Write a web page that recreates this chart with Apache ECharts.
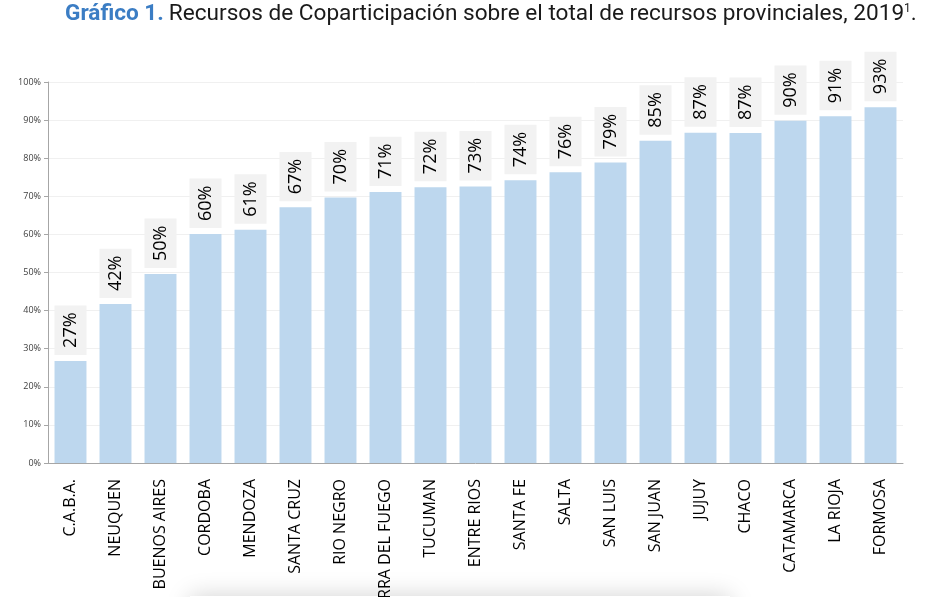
<!DOCTYPE html>
<html>
<head>
<meta charset="utf-8">
<script src="https://cdn.jsdelivr.net/npm/echarts@6/dist/echarts.min.js"></script>
<style>
  html, body { margin: 0; padding: 0; background: #fff; }
  #chart { width: 928px; height: 597px; }
</style>
</head>
<body>
<div id="chart"></div>
<script>
// Provincias, ordenadas de menor a mayor
const provincias = [
    'C.A.B.A.', 'NEUQUEN', 'BUENOS AIRES', 'CORDOBA', 'MENDOZA', 'SANTA CRUZ',
    'RIO NEGRO', 'TIERRA DEL FUEGO', 'TUCUMAN', 'ENTRE RIOS', 'SANTA FE', 'SALTA',
    'SAN LUIS', 'SAN JUAN', 'JUJUY', 'CHACO', 'CATAMARCA', 'LA RIOJA', 'FORMOSA'
];
// % de coparticipacion sobre el total de recursos
const coparticipacion = [
    26.8, 41.7, 49.6, 60.1, 61.2, 67.1, 69.7, 71.1, 72.4, 72.6,
    74.2, 76.3, 78.9, 84.6, 86.7, 86.6, 89.8, 91.0, 93.4
];
const yTicks = [0, 10, 20, 30, 40, 50, 60, 70, 80, 90, 100];

const axisGray = '#a6a6a6';

let ec = echarts.init(document.getElementById('chart'));
ec.setOption({
    animation: false,
    title: {
        left: 65,
        top: 3,
        padding: 0,
        text: '{a|Gráfico 1.} {b|Recursos de Coparticipación sobre el total de recursos provinciales, 2019}{s|1}{b|.}',
        textStyle: {
            rich: {
                a: { fontFamily: 'Roboto', fontSize: 22.6, fontWeight: 'bold', color: '#3b7dc4' },
                b: { fontFamily: 'Roboto', fontSize: 22.6, fontWeight: 'normal', color: '#1a1a1a' },
                s: { fontFamily: 'Roboto', fontSize: 12, fontWeight: 'normal', color: '#1a1a1a', verticalAlign: 'top', padding: [0, 0, 10, 0] }
            }
        }
    },
    grid: { left: 48, right: 25, top: 82, bottom: 134, outerBoundsMode: 'none', containLabel: false },
    xAxis: {
        type: 'category',
        data: provincias,
        axisLine: { lineStyle: { color: axisGray } },
        axisTick: { alignWithLabel: false, length: 5, lineStyle: { color: axisGray } },
        axisLabel: {
            rotate: 90,
            interval: 0,
            margin: 16,
            fontFamily: 'Open Sans',
            fontSize: 16,
            color: '#000'
        }
    },
    yAxis: {
        type: 'value',
        min: 0,
        max: 100,
        interval: 10,
        axisLine: { show: true, lineStyle: { color: axisGray } },
        axisTick: { show: true, length: 4, lineStyle: { color: axisGray } },
        splitLine: { lineStyle: { color: '#f0f0f0' } },
        axisLabel: {
            margin: 7,
            fontFamily: 'Open Sans',
            fontSize: 9,
            color: '#404040',
            formatter: v => yTicks.includes(v) ? v + '%' : ''
        }
    },
    series: [{
        type: 'bar',
        data: coparticipacion,
        barWidth: '71%',
        itemStyle: { color: '#bdd7ee' },
        label: {
            show: true,
            position: 'top',
            rotate: 90,
            align: 'left',
            verticalAlign: 'middle',
            distance: 6,
            fontFamily: 'Open Sans',
            fontSize: 18,
            lineHeight: 18,
            color: '#000',
            backgroundColor: '#f2f2f2',
            padding: [7, 7, 7, 7],
            formatter: p => Math.round(p.value) + '%'
        }
    }],
    graphic: [{
        type: 'rect',
        left: 190,
        top: 596,
        shape: { width: 540, height: 40 },
        style: { fill: '#fff', shadowBlur: 25, shadowColor: 'rgba(0,0,0,0.18)' },
        silent: true
    }]
});
</script>
</body>
</html>
